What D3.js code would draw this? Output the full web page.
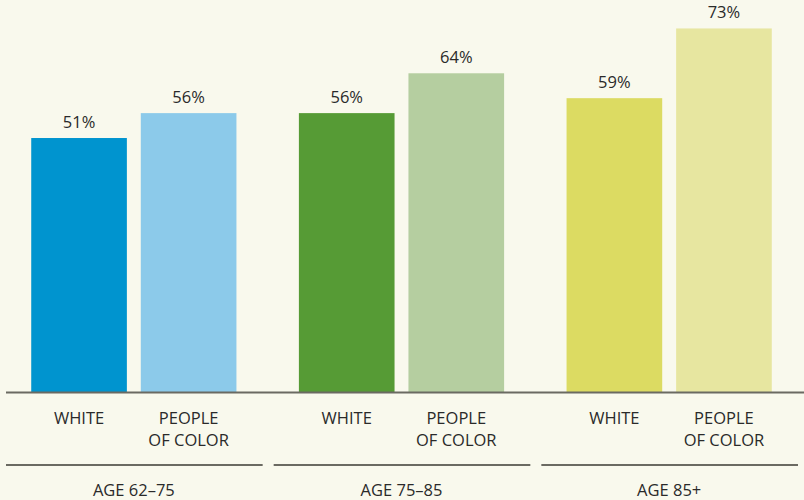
<!DOCTYPE html>
<html>
<head>
<meta charset="utf-8">
<script src="https://cdn.jsdelivr.net/npm/d3@7/dist/d3.min.js"></script>
<style>
  html, body { margin: 0; padding: 0; background: #f9f9ed; }
  svg { display: block; }
  text { font-family: "Open Sans", "Noto Sans", sans-serif; fill: #2a2a2a; }
</style>
</head>
<body>
<svg id="chart" width="804" height="500"></svg>
<script>
// Share of older adults, by age group and race
const groups = ["AGE 62–75", "AGE 75–85", "AGE 85+"];
const seriesKeys = ["white", "poc"];
const seriesLabels = { white: ["WHITE"], poc: ["PEOPLE", "OF COLOR"] };
const whiteValues = [51, 56, 59];
const pocValues = [56, 64, 73];
const barColors = [
  ["#0094cf", "#8ccaea"],
  ["#569b35", "#b5cea0"],
  ["#dcdb62", "#e7e6a0"]
];

const svg = d3.select("#chart");
const W = 804, H = 500;
const baseY = 392;
const fontSize = 16.5;

const x0 = d3.scaleBand().domain(groups).range([0, 803]);
const x1 = d3.scaleBand().domain(seriesKeys).range([0, x0.bandwidth()])
  .paddingInner(0.127).paddingOuter(0.285);
const y = d3.scaleLinear().domain([0, 100]).range([baseY, baseY - 498]);

const data = groups.map((g, i) => ({
  group: g,
  values: [
    { key: "white", value: whiteValues[i], color: barColors[i][0] },
    { key: "poc", value: pocValues[i], color: barColors[i][1] }
  ]
}));

const gGroups = svg.selectAll("g.group").data(data).join("g")
  .attr("class", "group")
  .attr("transform", d => `translate(${x0(d.group)},0)`);

// bars
gGroups.selectAll("rect").data(d => d.values).join("rect")
  .attr("x", d => x1(d.key))
  .attr("width", x1.bandwidth())
  .attr("y", d => y(d.value))
  .attr("height", d => y(0) - y(d.value))
  .attr("fill", d => d.color);

// value labels
gGroups.selectAll("text.val").data(d => d.values).join("text")
  .attr("class", "val")
  .attr("x", d => x1(d.key) + x1.bandwidth() / 2)
  .attr("y", d => y(d.value) - 10)
  .attr("text-anchor", "middle")
  .attr("font-size", fontSize)
  .text(d => d.value + "%");

// series labels under bars
gGroups.selectAll("text.cat").data(d => d.values).join("text")
  .attr("class", "cat")
  .attr("x", d => x1(d.key) + x1.bandwidth() / 2)
  .attr("y", 424)
  .attr("text-anchor", "middle")
  .attr("font-size", fontSize)
  .each(function (d) {
    const t = d3.select(this);
    seriesLabels[d.key].forEach((line, j) => {
      t.append("tspan")
        .attr("x", x1(d.key) + x1.bandwidth() / 2)
        .attr("dy", j === 0 ? 0 : 22)
        .text(line);
    });
  });

// group separators
gGroups.append("line")
  .attr("x1", 6).attr("x2", x0.bandwidth() - 5)
  .attr("y1", 465).attr("y2", 465)
  .attr("stroke", "#6b6a62").attr("stroke-width", 2);

// group labels
gGroups.append("text")
  .attr("x", x0.bandwidth() / 2)
  .attr("y", 496)
  .attr("text-anchor", "middle")
  .attr("font-size", fontSize)
  .text(d => d.group);

// baseline
svg.append("line")
  .attr("x1", 6).attr("x2", W)
  .attr("y1", baseY + 0.5).attr("y2", baseY + 0.5)
  .attr("stroke", "#6b6a62").attr("stroke-width", 2);
</script>
</body>
</html>
